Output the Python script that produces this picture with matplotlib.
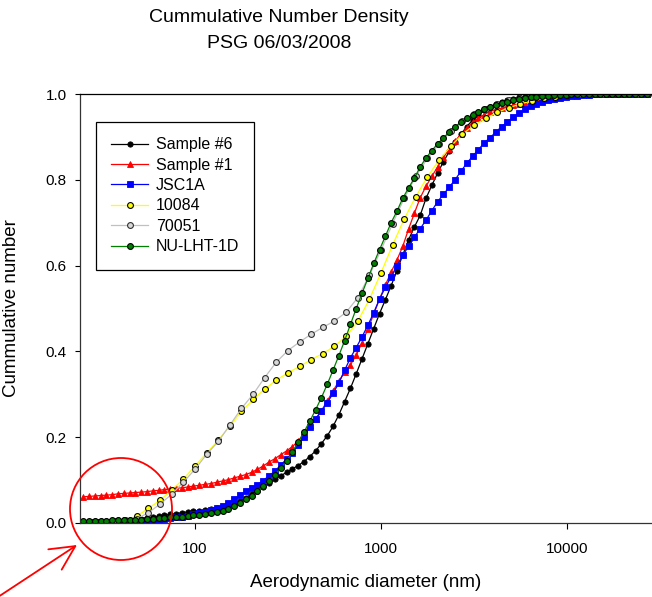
#!/usr/bin/env python3

import matplotlib
matplotlib.use('Agg')
import matplotlib.pyplot as plt
from matplotlib.patches import Circle
from matplotlib.ticker import NullLocator

plt.rcParams['font.family'] = ['Liberation Sans', 'DejaVu Sans']

# aerodynamic diameter (nm), 32 channels / decade
diam_fine = [
    25.0, 26.9, 28.9, 31.1, 33.4, 35.9, 38.5, 41.4, 44.5, 47.8,
    51.4, 55.2, 59.4, 63.8, 68.5, 73.7, 79.1, 85.1, 91.4, 98.2,
    105.5, 113.4, 121.9, 131.0, 140.7, 151.2, 162.5, 174.7, 187.7, 201.7,
    216.7, 232.9, 250.3, 269.0, 289.0, 310.6, 333.8, 358.7, 385.4, 414.2,
    445.1, 478.3, 514.0, 552.3, 593.5, 637.8, 685.4, 736.5, 791.5, 850.5,
    914.0, 982.2, 1055, 1134, 1219, 1310, 1407, 1512, 1625, 1747,
    1877, 2017, 2167, 2329, 2503, 2690, 2890, 3106, 3338, 3587,
    3854, 4142, 4451, 4783, 5140, 5523, 5935, 6378, 6854, 7365,
    7915, 8505, 9140, 9822, 10550, 11340, 12190, 13100, 14070, 15120,
    16250, 17470, 18770, 20170, 21670, 23290, 25030, 26900,
]

# aerodynamic diameter (nm), 16 channels / decade
diam_coarse = [
    27.4, 31.6, 36.5, 42.2, 48.7, 56.2, 64.9, 75.0, 86.6,
    100, 115.5, 133.4, 154.0, 177.8, 205.4, 237.1, 273.8, 316.2, 365.2,
    421.7, 487.0, 562.3, 649.4, 749.9, 866.0, 1000, 1155, 1334, 1540,
    1778, 2054, 2371, 2738, 3162, 3652, 4217, 4870, 5623, 6494,
    7499, 8660, 10000, 11550, 13340, 15400, 17780, 20540, 23710, 27380,
]

sample6 = [
    0.003, 0.003, 0.004, 0.004, 0.005, 0.005, 0.006, 0.007, 0.008, 0.009,
    0.010, 0.012, 0.014, 0.016, 0.018, 0.020, 0.022, 0.024, 0.026, 0.027,
    0.028, 0.030, 0.032, 0.035, 0.037, 0.040, 0.045, 0.051, 0.059, 0.068,
    0.075, 0.084, 0.094, 0.102, 0.110, 0.118, 0.126, 0.134, 0.143, 0.155,
    0.168, 0.185, 0.203, 0.225, 0.252, 0.283, 0.314, 0.348, 0.383, 0.418,
    0.453, 0.488, 0.520, 0.553, 0.588, 0.625, 0.660, 0.690, 0.717, 0.757,
    0.787, 0.816, 0.842, 0.866, 0.888, 0.906, 0.924, 0.939, 0.951, 0.962,
    0.970, 0.977, 0.982, 0.986, 0.989, 0.992, 0.994, 0.995, 0.996, 0.997,
    0.998, 0.998, 0.999, 1.0, 1.0, 1.0, 1.0, 1.0, 1.0, 1.0,
    1.0, 1.0, 1.0, 1.0, 1.0, 1.0, 1.0, 1.0,
]

sample1 = [
    0.061, 0.062, 0.063, 0.064, 0.065, 0.066, 0.068, 0.069, 0.070, 0.071,
    0.072, 0.073, 0.075, 0.076, 0.078, 0.079, 0.081, 0.082, 0.084, 0.086,
    0.088, 0.090, 0.092, 0.095, 0.098, 0.101, 0.105, 0.109, 0.113, 0.118,
    0.125, 0.133, 0.142, 0.150, 0.159, 0.168, 0.178, 0.191, 0.208, 0.229,
    0.243, 0.262, 0.284, 0.308, 0.330, 0.352, 0.369, 0.391, 0.420, 0.452,
    0.487, 0.522, 0.554, 0.585, 0.613, 0.645, 0.685, 0.722, 0.758, 0.785,
    0.808, 0.830, 0.852, 0.872, 0.890, 0.906, 0.921, 0.934, 0.944, 0.952,
    0.959, 0.964, 0.967, 0.971, 0.974, 0.977, 0.980, 0.983, 0.985, 0.988,
    0.990, 0.992, 0.994, 0.995, 0.997, 0.998, 0.999, 1.0, 1.0, 1.0,
    1.0, 1.0, 1.0, 1.0, 1.0, 1.0, 1.0, 1.0,
]

jsc1a = [
    0.001, 0.001, 0.002, 0.002, 0.002, 0.003, 0.003, 0.003, 0.004, 0.004,
    0.005, 0.006, 0.007, 0.008, 0.009, 0.011, 0.013, 0.015, 0.017, 0.020,
    0.023, 0.026, 0.030, 0.034, 0.039, 0.046, 0.055, 0.065, 0.074, 0.082,
    0.089, 0.099, 0.110, 0.121, 0.135, 0.149, 0.164, 0.181, 0.201, 0.224,
    0.242, 0.260, 0.280, 0.302, 0.326, 0.356, 0.385, 0.409, 0.434, 0.461,
    0.490, 0.522, 0.549, 0.574, 0.600, 0.624, 0.645, 0.666, 0.686, 0.706,
    0.728, 0.749, 0.766, 0.783, 0.800, 0.820, 0.838, 0.855, 0.870, 0.886,
    0.898, 0.911, 0.924, 0.935, 0.946, 0.956, 0.964, 0.972, 0.977, 0.981,
    0.986, 0.989, 0.991, 0.993, 0.995, 0.996, 0.997, 0.998, 0.999, 0.999,
    1.0, 1.0, 1.0, 1.0, 1.0, 1.0, 1.0, 1.0,
]

s10084 = [
    0.002, 0.003, 0.004, 0.007, 0.016, 0.034, 0.053, 0.077, 0.102,
    0.133, 0.163, 0.193, 0.226, 0.260, 0.288, 0.312, 0.333, 0.350, 0.365,
    0.381, 0.395, 0.412, 0.435, 0.470, 0.521, 0.583, 0.648, 0.709, 0.761,
    0.807, 0.846, 0.878, 0.906, 0.927, 0.943, 0.957, 0.968, 0.977, 0.984,
    0.990, 0.994, 0.997, 0.999, 1.0, 1.0, 1.0, 1.0, 1.0, 1.0,
]

s70051 = [
    0.003, 0.003, 0.004, 0.006, 0.010, 0.024, 0.044, 0.067, 0.095,
    0.125, 0.160, 0.190, 0.228, 0.267, 0.300, 0.339, 0.375, 0.402, 0.422,
    0.440, 0.456, 0.471, 0.491, 0.525, 0.577, 0.636, 0.698, 0.757, 0.808,
    0.850, 0.884, 0.913, 0.936, 0.953, 0.966, 0.977, 0.985, 0.990, 0.994,
    0.997, 0.999, 1.0, 1.0, 1.0, 1.0, 1.0, 1.0, 1.0, 1.0,
]

nu_lht_1d = [
    0.004, 0.004, 0.005, 0.005, 0.005, 0.006, 0.006, 0.007, 0.007, 0.008,
    0.008, 0.009, 0.010, 0.011, 0.012, 0.013, 0.014, 0.015, 0.016, 0.018,
    0.019, 0.021, 0.023, 0.025, 0.028, 0.033, 0.040, 0.047, 0.055, 0.064,
    0.074, 0.086, 0.098, 0.112, 0.128, 0.144, 0.165, 0.188, 0.212, 0.237,
    0.264, 0.292, 0.323, 0.356, 0.390, 0.425, 0.463, 0.500, 0.536, 0.570,
    0.605, 0.637, 0.668, 0.700, 0.727, 0.757, 0.781, 0.804, 0.830, 0.851,
    0.868, 0.884, 0.898, 0.911, 0.923, 0.935, 0.943, 0.951, 0.958, 0.964,
    0.970, 0.974, 0.978, 0.982, 0.985, 0.988, 0.990, 0.992, 0.994, 0.995,
    0.996, 0.997, 0.998, 0.998, 0.999, 1.0, 1.0, 1.0, 1.0, 1.0,
    1.0, 1.0, 1.0, 1.0, 1.0, 1.0, 1.0, 1.0,
]

W, H = 652, 597
fig = plt.figure(figsize=(W / 100, H / 100), dpi=100)
ax = fig.add_axes([80 / W, 1 - 523 / H, 572 / W, 429 / H])

ax.plot(diam_fine, sample6, color='black', lw=0.9, marker='o', ms=3.8,
        mfc='black', mec='black', mew=0.6, label='Sample #6')
ax.plot(diam_fine, sample1, color='red', lw=0.9, marker='^', ms=4.4,
        mfc='red', mec='red', mew=0.6, label='Sample #1')
ax.plot(diam_fine, jsc1a, color='blue', lw=0.9, marker='s', ms=3.8,
        mfc='blue', mec='blue', mew=0.6, label='JSC1A')
ax.plot(diam_coarse, s10084, color='#ffff00', lw=0.9, marker='o', ms=4.2,
        mfc='#ffff00', mec='black', mew=0.8, label='10084')
ax.plot(diam_coarse, s70051, color='#c0c0c0', lw=0.9, marker='o', ms=4.2,
        mfc='#d8d8d8', mec='#303030', mew=0.8, label='70051')
ax.plot(diam_fine, nu_lht_1d, color='#008000', lw=0.9, marker='o', ms=4.2,
        mfc='#008000', mec='black', mew=0.8, label='NU-LHT-1D')

ax.set_xscale('log')
ax.set_xlim(24.1, 28650)
ax.set_ylim(0, 1.0)
ax.set_xticks([100, 1000, 10000])
ax.set_xticklabels(['100', '1000', '10000'])
ax.xaxis.set_minor_locator(NullLocator())
ax.set_yticks([0.0, 0.2, 0.4, 0.6, 0.8, 1.0])
ax.set_yticklabels(['0.0', '0.2', '0.4', '0.6', '0.8', '1.0'])
ax.tick_params(axis='x', direction='out', length=4.5, pad=9, labelsize=11)
ax.tick_params(axis='y', direction='out', length=3.6, pad=6, labelsize=11)

ax.spines['right'].set_visible(False)
for s in ('left', 'bottom', 'top'):
    ax.spines[s].set_linewidth(0.9)
ax.spines['left'].set_color('#333333')
ax.spines['bottom'].set_color('#333333')

ax.set_xlabel('Aerodynamic diameter (nm)', fontsize=13.5)
ax.xaxis.set_label_coords(0.5, -0.118)
ax.set_ylabel('Cummulative number', fontsize=13.5)
ax.yaxis.set_label_coords(-0.105, 0.5)

fig.text(279 / W, 1 - 18 / H, 'Cummulative Number Density',
         ha='center', va='center', fontsize=14)
fig.text(279 / W, 1 - 43 / H, 'PSG 06/03/2008',
         ha='center', va='center', fontsize=14)

leg = ax.legend(loc='upper left', bbox_to_anchor=(96 / W, 1 - 122 / H),
                bbox_transform=fig.transFigure, borderaxespad=0,
                fontsize=11.5, numpoints=1, handlelength=2.3,
                handletextpad=0.5, labelspacing=0.34, borderpad=0.95,
                fancybox=False, framealpha=1, edgecolor='black')
leg.get_frame().set_linewidth(0.9)

# red highlight circle and arrow
fig.add_artist(Circle((1.21, 0.88), 0.51, transform=fig.dpi_scale_trans,
                      fill=False, ec='red', lw=1.3))
ax.annotate('', xy=(77 / W, 1 - 545 / H), xycoords='figure fraction',
            xytext=(-2 / W, 1 - 597 / H), textcoords='figure fraction',
            arrowprops=dict(arrowstyle='->, head_length=0.7, head_width=0.35',
                            color='red', lw=1.3, mutation_scale=25,
                            shrinkA=0, shrinkB=0),
            annotation_clip=False)

plt.savefig('out.png', dpi=100)
